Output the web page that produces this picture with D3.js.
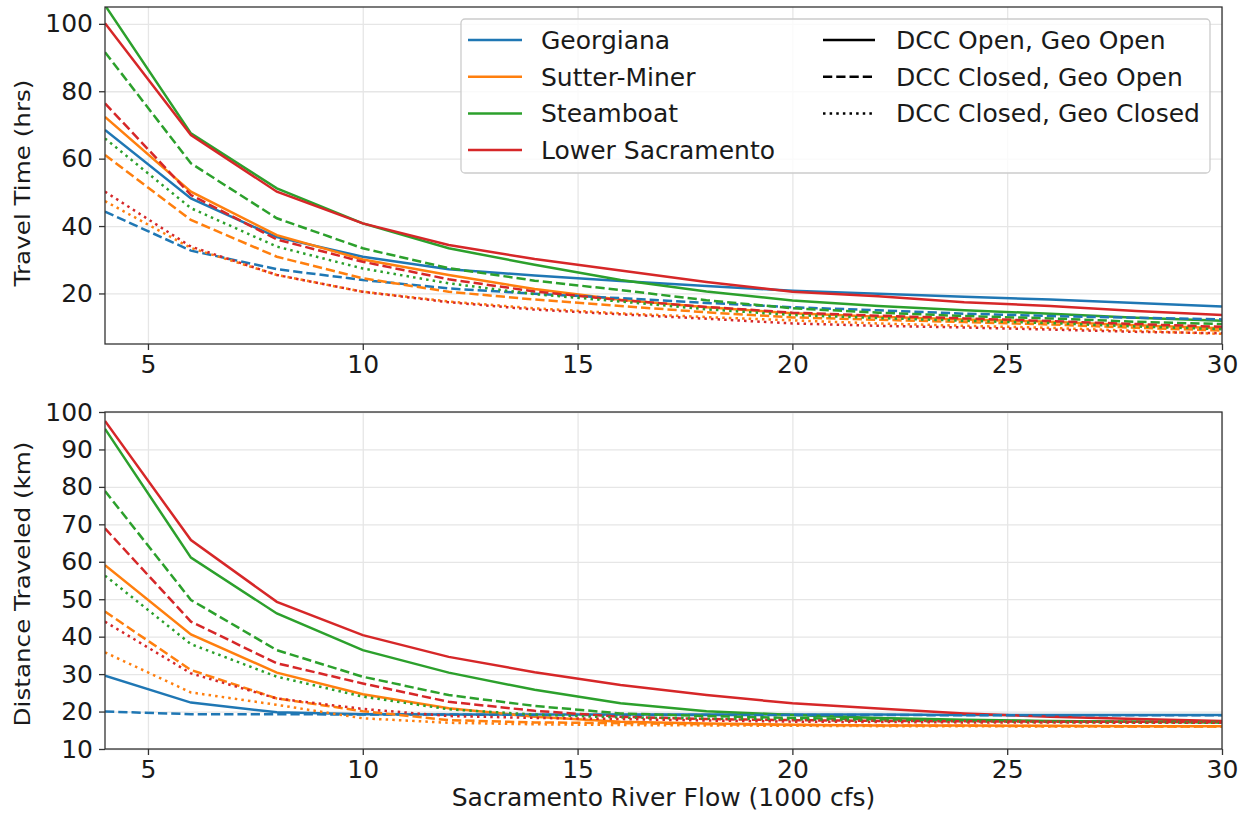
<!DOCTYPE html>
<html>
<head>
<meta charset="utf-8">
<script src="https://cdn.jsdelivr.net/npm/d3@7"></script>
<style>
  body { margin: 0; background: #fff; }
  text { font-family: "DejaVu Sans", sans-serif; fill: #1a1a1a; }
</style>
</head>
<body>
<div id="chart"></div>
<script>
// flow in 1000 cfs
const flows = [4, 6, 8, 10, 12, 14, 16, 18, 20, 22, 24, 26, 28, 30];

const routes = ['Georgiana', 'Sutter-Miner', 'Steamboat', 'Lower Sacramento'];
const routeColors = ['#1f77b4', '#ff7f0e', '#2ca02c', '#d62728'];
const scenarios = ['DCC Open, Geo Open', 'DCC Closed, Geo Open', 'DCC Closed, Geo Closed'];

// travel time (hrs)
const timeGeoOpen = [68.5, 48.2, 36.7, 30.9, 27.2, 25.3, 23.7, 22.2, 20.8, 19.9, 19.0, 18.2, 17.2, 16.1];
const timeGeoDcc = [44.3, 32.7, 27.2, 24.0, 21.5, 19.9, 18.6, 17.2, 15.9, 15.0, 14.0, 13.3, 12.8, 12.3];
const timeSutOpen = [72.4, 50.2, 37.3, 30.1, 25.5, 21.3, 18.1, 15.9, 14.1, 13.1, 12.3, 11.6, 10.6, 9.7];
const timeSutDcc = [61.1, 41.8, 30.9, 24.5, 20.5, 18.2, 16.3, 14.4, 12.9, 12.2, 11.5, 10.8, 9.8, 9.0];
const timeSutBoth = [47.4, 33.5, 25.5, 20.5, 17.6, 15.6, 14.1, 13.0, 12.0, 11.1, 10.4, 9.8, 8.9, 8.0];
const timeStmOpen = [105.5, 67.5, 51.2, 40.8, 33.4, 28.5, 24.0, 20.6, 17.9, 16.3, 15.0, 14.0, 12.8, 11.9];
const timeStmDcc = [91.6, 58.6, 42.3, 33.4, 27.5, 23.8, 21.0, 18.0, 15.6, 14.3, 13.3, 12.6, 11.6, 10.9];
const timeStmBoth = [66.0, 45.3, 33.9, 27.4, 23.0, 19.8, 17.6, 15.3, 13.6, 12.7, 11.9, 11.2, 10.2, 9.4];
const timeSacOpen = [100.2, 67.0, 50.2, 40.8, 34.4, 30.2, 26.8, 23.4, 20.5, 19.2, 17.4, 16.3, 14.8, 13.6];
const timeSacDcc = [76.4, 49.2, 36.0, 29.4, 24.2, 20.6, 18.0, 16.0, 14.3, 13.4, 12.6, 11.8, 10.9, 10.1];
const timeSacBoth = [50.2, 33.9, 25.5, 20.5, 17.4, 15.2, 13.8, 12.5, 11.1, 10.4, 9.9, 9.3, 8.6, 8.2];

// distance traveled (km)
const distGeoOpen = [29.6, 22.4, 19.8, 19.3, 19.2, 19.2, 19.2, 19.2, 19.2, 19.2, 19.1, 19.1, 19.1, 19.1];
const distGeoDcc = [20.0, 19.3, 19.3, 19.2, 19.2, 19.1, 19.1, 19.1, 19.1, 19.1, 19.0, 19.0, 19.0, 19.0];
const distSutOpen = [59.1, 40.6, 30.4, 24.6, 20.9, 18.6, 17.3, 16.8, 16.5, 16.3, 16.3, 16.2, 16.1, 16.1];
const distSutDcc = [46.7, 31.1, 23.5, 20.1, 17.7, 17.1, 16.9, 16.6, 16.4, 16.3, 16.2, 16.1, 16.0, 16.0];
const distSutBoth = [35.8, 25.1, 21.8, 18.2, 17.0, 16.6, 16.4, 16.3, 16.2, 16.1, 16.1, 16.0, 16.0, 16.0];
const distStmOpen = [95.5, 61.1, 46.2, 36.4, 30.4, 25.8, 22.2, 20.1, 19.1, 18.3, 17.8, 17.5, 17.3, 17.1];
const distStmDcc = [78.9, 49.8, 36.4, 29.3, 24.4, 21.5, 19.5, 18.8, 18.3, 17.9, 17.6, 17.4, 17.3, 17.2];
const distStmBoth = [56.3, 38.0, 29.3, 24.0, 20.6, 19.2, 18.4, 18.1, 17.9, 17.6, 17.4, 17.2, 17.1, 17.0];
const distSacOpen = [97.6, 65.8, 49.3, 40.4, 34.6, 30.5, 27.1, 24.4, 22.2, 20.8, 19.5, 18.6, 18.0, 17.5];
const distSacDcc = [68.9, 44.0, 32.9, 27.5, 22.6, 20.2, 18.6, 18.0, 17.7, 17.5, 17.4, 17.3, 17.3, 17.3];
const distSacBoth = [44.0, 30.2, 23.5, 20.7, 18.8, 18.3, 18.0, 17.6, 17.3, 17.2, 17.1, 17.1, 17.0, 17.0];

const xTicks = [5, 10, 15, 20, 25, 30];
const timeTicks = [20, 40, 60, 80, 100];
const distTicks = [10, 20, 30, 40, 50, 60, 70, 80, 90, 100];

// [route index, scenario index, values]
const timeSeries = [
    [0, 0, timeGeoOpen], [1, 0, timeSutOpen], [2, 0, timeStmOpen], [3, 0, timeSacOpen],
    [0, 1, timeGeoDcc], [1, 1, timeSutDcc], [2, 1, timeStmDcc], [3, 1, timeSacDcc],
    [1, 2, timeSutBoth], [2, 2, timeStmBoth], [3, 2, timeSacBoth]
];
const distSeries = [
    [0, 0, distGeoOpen], [1, 0, distSutOpen], [2, 0, distStmOpen], [3, 0, distSacOpen],
    [0, 1, distGeoDcc], [1, 1, distSutDcc], [2, 1, distStmDcc], [3, 1, distSacDcc],
    [1, 2, distSutBoth], [2, 2, distStmBoth], [3, 2, distSacBoth]
];

const lw = 2.5;
const dashes = ['none', `${3.7 * lw},${1.6 * lw}`, `${1 * lw},${1.65 * lw}`];

const W = 1245, H = 815;
const left = 105, right = 1222;
const fontSize = 25;

const svg = d3.select('#chart').append('svg')
    .attr('width', W)
    .attr('height', H);

function drawPanel(id, top, bottom, yDomain, yTicks, series, yLabel, labelY) {
    const x = d3.scaleLinear().domain([4, 30]).range([left, right]);
    const y = d3.scaleLinear().domain(yDomain).range([bottom, top]);

    const g = svg.append('g');

    g.append('clipPath').attr('id', id)
        .append('rect')
        .attr('x', left).attr('y', top)
        .attr('width', right - left).attr('height', bottom - top);

    // grid
    g.append('g')
        .attr('transform', `translate(0,${bottom})`)
        .call(d3.axisBottom(x).tickValues(xTicks).tickSize(-(bottom - top)).tickFormat(''))
        .call(a => a.select('.domain').remove())
        .selectAll('line').attr('stroke', '#e6e6e6').attr('stroke-width', 1.3);
    g.append('g')
        .attr('transform', `translate(${left},0)`)
        .call(d3.axisLeft(y).tickValues(yTicks).tickSize(-(right - left)).tickFormat(''))
        .call(a => a.select('.domain').remove())
        .selectAll('line').attr('stroke', '#e6e6e6').attr('stroke-width', 1.3);

    // lines
    const line = d3.line()
        .x((d, i) => x(flows[i]))
        .y(d => y(d));

    g.append('g')
        .attr('clip-path', `url(#${id})`)
        .selectAll('path')
        .data(series)
        .enter()
        .append('path')
        .attr('d', d => line(d[2]))
        .attr('fill', 'none')
        .attr('stroke', d => routeColors[d[0]])
        .attr('stroke-width', lw)
        .attr('stroke-dasharray', d => dashes[d[1]]);

    // axes
    const xAxis = g.append('g')
        .attr('transform', `translate(0,${bottom})`)
        .call(d3.axisBottom(x).tickValues(xTicks).tickSize(6).tickPadding(5));
    const yAxis = g.append('g')
        .attr('transform', `translate(${left},0)`)
        .call(d3.axisLeft(y).tickValues(yTicks).tickSize(6).tickPadding(6));
    [xAxis, yAxis].forEach(a => {
        a.select('.domain').remove();
        a.selectAll('line').attr('stroke', '#333').attr('stroke-width', 1.3);
        a.selectAll('text').style('font-size', fontSize + 'px').attr('fill', '#1a1a1a');
    });

    // frame
    g.append('rect')
        .attr('x', left).attr('y', top)
        .attr('width', right - left).attr('height', bottom - top)
        .attr('fill', 'none')
        .attr('stroke', '#333')
        .attr('stroke-width', 1.3);

    // y label looks stretched along its length in the original
    g.append('text')
        .attr('transform', `translate(30,${labelY}) rotate(-90) scale(1.12,1)`)
        .attr('text-anchor', 'middle')
        .style('font-size', '22px')
        .text(yLabel);

    return g;
}

drawPanel('clip-top', 7, 344, [5, 105], timeTicks, timeSeries, 'Travel Time (hrs)', 183);
drawPanel('clip-bot', 412, 749, [10, 100], distTicks, distSeries, 'Distance Traveled (km)', 584);

svg.append('text')
    .attr('x', (left + right) / 2)
    .attr('y', 806)
    .attr('text-anchor', 'middle')
    .style('font-size', fontSize + 'px')
    .text('Sacramento River Flow (1000 cfs)');

// legend
const legend = svg.append('g');
legend.append('rect')
    .attr('x', 461).attr('y', 19)
    .attr('width', 749).attr('height', 154)
    .attr('rx', 4)
    .attr('fill', '#fff').attr('fill-opacity', 0.8)
    .attr('stroke', '#cccccc').attr('stroke-width', 1.3);

const rowY = i => 40 + i * 36.7;

routes.forEach((r, i) => {
    legend.append('line')
        .attr('x1', 468).attr('x2', 522)
        .attr('y1', rowY(i)).attr('y2', rowY(i))
        .attr('stroke', routeColors[i]).attr('stroke-width', lw);
    legend.append('text')
        .attr('x', 541).attr('y', rowY(i))
        .attr('dy', '0.36em')
        .style('font-size', fontSize + 'px')
        .text(r);
});

scenarios.forEach((s, i) => {
    legend.append('line')
        .attr('x1', 823).attr('x2', 875)
        .attr('y1', rowY(i)).attr('y2', rowY(i))
        .attr('stroke', '#000').attr('stroke-width', lw)
        .attr('stroke-dasharray', dashes[i]);
    legend.append('text')
        .attr('x', 896).attr('y', rowY(i))
        .attr('dy', '0.36em')
        .style('font-size', fontSize + 'px')
        .text(s);
});
</script>
</body>
</html>
